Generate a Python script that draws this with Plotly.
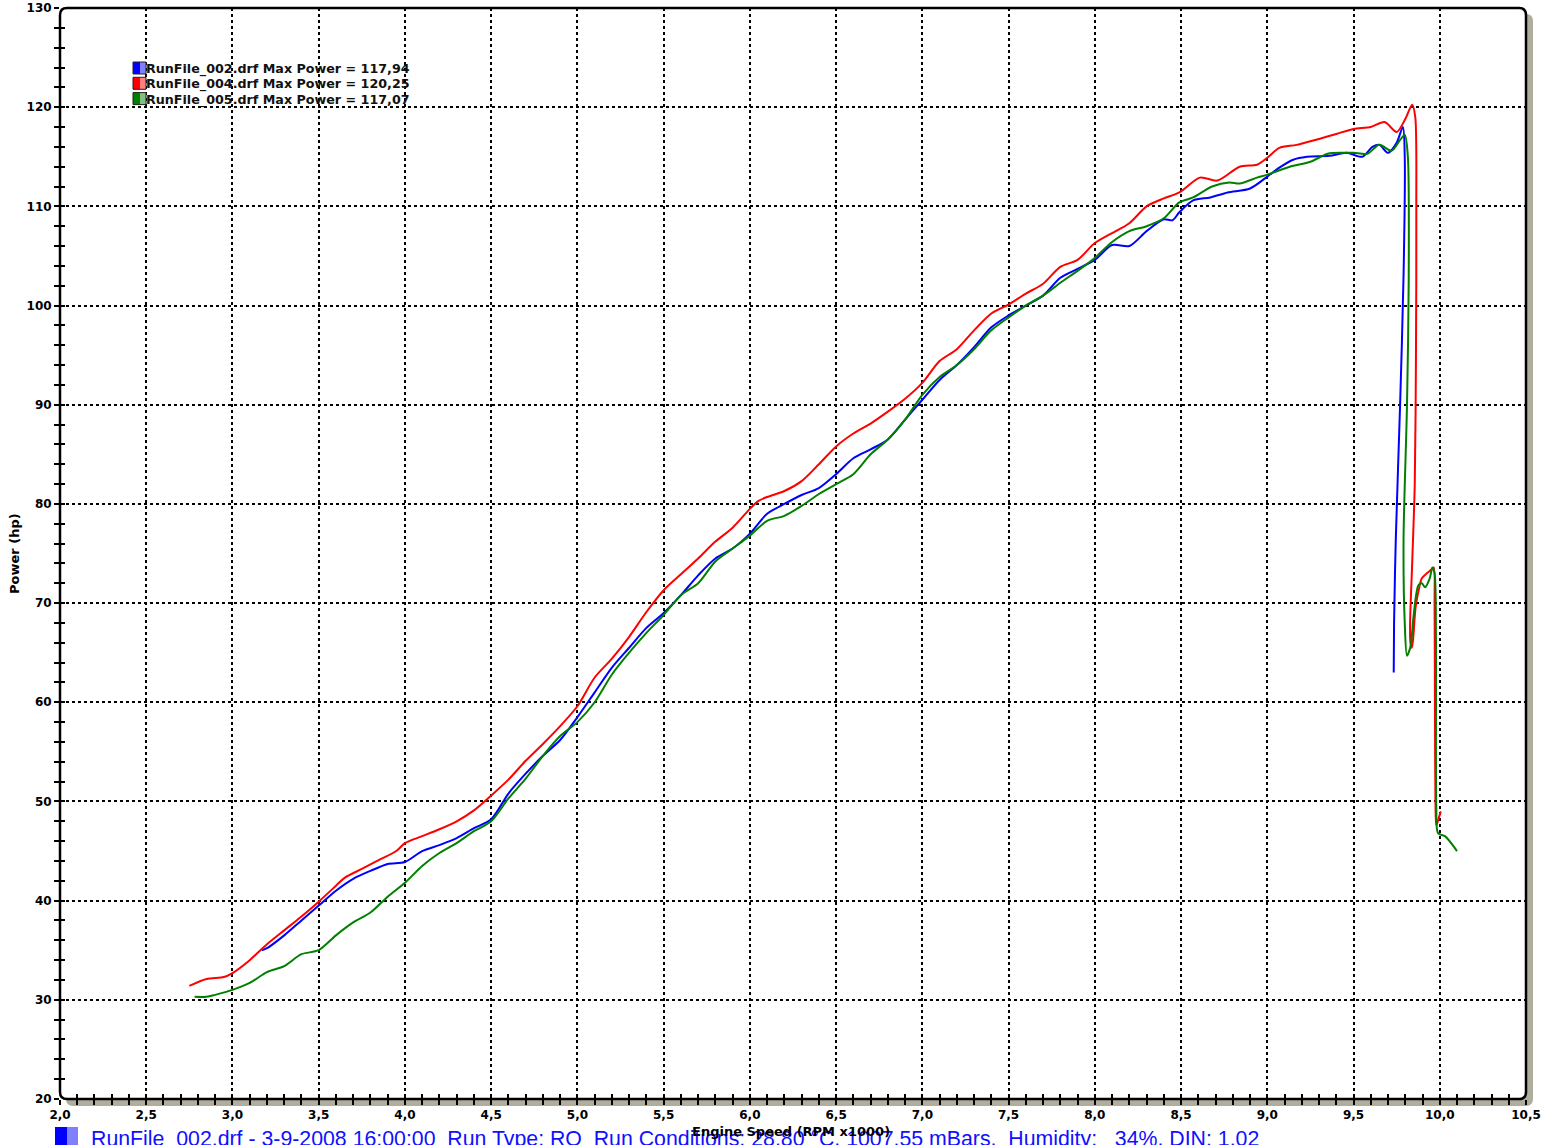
import plotly.graph_objects as go

# ---------------- data ----------------
red_x = [2.75, 2.85, 2.95, 3.0, 3.1, 3.2, 3.3, 3.4, 3.5, 3.6, 3.65, 3.75, 3.85, 3.95, 4.0, 4.1, 4.2, 4.3, 4.4,
         4.5, 4.6, 4.7, 4.8, 4.9, 5.0, 5.1, 5.2, 5.3, 5.4, 5.5, 5.6, 5.7, 5.8, 5.9, 6.0, 6.05, 6.1, 6.2, 6.3,
         6.4, 6.5, 6.6, 6.7, 6.8, 6.9, 7.0, 7.1, 7.2, 7.3, 7.4, 7.5, 7.6, 7.7, 7.8, 7.9, 8.0, 8.1, 8.2, 8.3,
         8.4, 8.49, 8.61, 8.71, 8.84, 8.94, 9.0, 9.07, 9.17, 9.3, 9.4, 9.5, 9.6, 9.68, 9.75, 9.8, 9.84,
         9.858, 9.864, 9.862, 9.855, 9.84, 9.828, 9.83, 9.838, 9.845, 9.86, 9.88, 9.896, 9.925, 9.953,
         9.965, 9.97, 9.972, 9.975, 9.98, 9.992, 10.006]
red_y = [31.4, 32.1, 32.3, 32.7, 34.0, 35.6, 37.0, 38.4, 39.9, 41.5, 42.3, 43.2, 44.1, 45.0, 45.8, 46.5, 47.2,
         48.0, 49.1, 50.6, 52.2, 54.1, 55.8, 57.6, 59.6, 62.5, 64.4, 66.6, 69.1, 71.3, 72.9, 74.5, 76.2, 77.6,
         79.5, 80.3, 80.7, 81.3, 82.3, 84.0, 85.8, 87.1, 88.1, 89.3, 90.6, 92.2, 94.4, 95.6, 97.5, 99.2,
         100.1, 101.2, 102.2, 103.9, 104.6, 106.3, 107.3, 108.3, 110.0, 110.8, 111.4, 112.9, 112.6, 114.0,
         114.2, 114.9, 115.9, 116.2, 116.8, 117.3, 117.8, 118.0, 118.5, 117.5, 118.8, 120.25,
         119.0, 110.0, 95.0, 82.0, 74.0, 68.0, 66.0, 65.5, 66.3, 69.6, 71.5, 72.5, 73.0, 73.4,
         73.6, 69.6, 60.0, 50.0, 47.6, 48.2, 49.0]

blue_x = [3.17, 3.2, 3.3, 3.4, 3.5, 3.6, 3.7, 3.8, 3.9, 4.0, 4.1, 4.2, 4.3, 4.4, 4.5, 4.6, 4.7, 4.8, 4.9,
          5.0, 5.1, 5.2, 5.3, 5.4, 5.5, 5.6, 5.7, 5.8, 5.9, 6.0, 6.1, 6.2, 6.3, 6.4, 6.5, 6.6, 6.7, 6.8,
          6.9, 7.0, 7.1, 7.2, 7.3, 7.4, 7.5, 7.6, 7.7, 7.8, 7.9, 8.0, 8.1, 8.2, 8.3, 8.4, 8.45, 8.49,
          8.57, 8.67, 8.77, 8.9, 9.0, 9.07, 9.15, 9.23, 9.36, 9.46, 9.55, 9.61, 9.65, 9.7, 9.75, 9.786,
          9.797, 9.79, 9.77, 9.745, 9.735, 9.733]
blue_y = [35.0, 35.2, 36.5, 38.0, 39.5, 41.0, 42.2, 43.0, 43.7, 43.9, 45.0, 45.6, 46.3, 47.3, 48.2, 50.8,
          52.8, 54.6, 56.2, 58.5, 61.0, 63.5, 65.5, 67.5, 69.0, 70.8, 72.8, 74.5, 75.5, 77.0, 79.0, 80.0,
          80.9, 81.6, 83.0, 84.6, 85.5, 86.5, 88.5, 90.5, 92.5, 94.0, 95.8, 97.8, 99.0, 100.0, 101.0, 102.8,
          103.7, 104.6, 106.1, 106.0, 107.5, 108.7, 108.6, 109.4, 110.6, 110.9, 111.4, 111.8, 113.0, 113.9,
          114.7, 115.0, 115.1, 115.4, 115.0, 116.0, 116.2, 115.4, 116.4, 118.0,
          115.0, 103.0, 90.0, 76.4, 68.0, 63.0]

green_x = [2.78, 2.85, 2.9, 3.0, 3.1, 3.2, 3.3, 3.4, 3.5, 3.6, 3.7, 3.8, 3.9, 4.0, 4.1, 4.2, 4.3, 4.4, 4.5,
           4.6, 4.7, 4.8, 4.9, 5.0, 5.1, 5.2, 5.3, 5.4, 5.5, 5.6, 5.7, 5.8, 5.9, 6.0, 6.1, 6.2, 6.3, 6.4,
           6.5, 6.6, 6.7, 6.8, 6.9, 7.0, 7.1, 7.2, 7.3, 7.4, 7.5, 7.6, 7.7, 7.8, 7.9, 8.0, 8.1, 8.2, 8.3,
           8.4, 8.49, 8.57, 8.68, 8.78, 8.84, 8.94, 9.0, 9.13, 9.25, 9.35, 9.44, 9.5, 9.58, 9.65, 9.72,
           9.77, 9.797, 9.815, 9.82, 9.81, 9.79, 9.797, 9.81, 9.83, 9.85, 9.876, 9.896, 9.914, 9.942,
           9.957, 9.97, 9.978, 9.98, 9.99, 10.03, 10.1]
green_y = [30.3, 30.3, 30.5, 31.0, 31.7, 32.8, 33.4, 34.6, 35.0, 36.5, 37.8, 38.8, 40.4, 41.8, 43.5, 44.8,
           45.8, 47.0, 48.0, 50.3, 52.3, 54.6, 56.6, 58.0, 60.0, 62.8, 65.0, 67.0, 68.8, 70.8, 72.0, 74.2,
           75.5, 76.8, 78.3, 78.8, 79.8, 81.0, 82.0, 83.0, 85.0, 86.5, 88.5, 91.0, 92.8, 94.0, 95.6, 97.5,
           98.8, 100.0, 101.0, 102.3, 103.5, 104.8, 106.4, 107.5, 108.0, 108.8, 110.4, 110.9, 112.0, 112.4,
           112.3, 112.9, 113.2, 114.0, 114.5, 115.3, 115.4, 115.4, 115.3, 116.2, 115.6, 116.7,
           117.2, 115.0, 102.6, 90.0, 76.4, 68.0, 64.7, 65.6, 69.0, 71.8, 72.0, 71.6, 72.5,
           73.6, 73.0, 66.3, 49.4, 46.8, 46.5, 45.0]

x_ticks = [2.0, 2.5, 3.0, 3.5, 4.0, 4.5, 5.0, 5.5, 6.0, 6.5, 7.0, 7.5, 8.0, 8.5, 9.0, 9.5, 10.0, 10.5]
x_tick_labels = ["2,0", "2,5", "3,0", "3,5", "4,0", "4,5", "5,0", "5,5", "6,0", "6,5", "7,0", "7,5",
                 "8,0", "8,5", "9,0", "9,5", "10,0", "10,5"]
y_ticks = [20, 30, 40, 50, 60, 70, 80, 90, 100, 110, 120, 130]
y_tick_labels = [str(v) for v in y_ticks]

legend_labels = ["RunFile_002.drf Max Power = 117,94",
                 "RunFile_004.drf Max Power = 120,25",
                 "RunFile_005.drf Max Power = 117,07"]
series_colors = ["#0000ff", "#ff0000", "#008000"]
light_colors = ["#8080ff", "#ff8080", "#80c080"]
footer_text = ("RunFile_002.drf - 3-9-2008 16:00:00\u00a0 Run Type: RO\u00a0 Run Conditions: 28.80 \u00b0C, "
               "1007.55 mBars,\u00a0 Humidity:\u00a0\u00a0 34%, DIN: 1.02")

# ---------------- layout helpers ----------------
W, H = 1559, 1145
PX0, PX1, PY0, PY1 = 60, 1526, 8, 1099


def fx(p):
    return (p - PX0) / (PX1 - PX0)


def fy(p):
    return (PY1 - p) / (PY1 - PY0)


def rrect(x0, y0, x1, y1, r):
    pts = [("M", x0 + r, y0), ("L", x1 - r, y0), ("Q", x1, y0, x1, y0 + r), ("L", x1, y1 - r),
           ("Q", x1, y1, x1 - r, y1), ("L", x0 + r, y1), ("Q", x0, y1, x0, y1 - r), ("L", x0, y0 + r),
           ("Q", x0, y0, x0 + r, y0)]
    s = ""
    for p in pts:
        cmd = p[0]
        coords = p[1:]
        parts = []
        for i in range(0, len(coords), 2):
            parts.append(f"{fx(coords[i]):.6f},{fy(coords[i + 1]):.6f}")
        s += cmd + " ".join(parts) + " "
    return s + "Z"


fig = go.Figure()
traces = [(blue_x, blue_y), (red_x, red_y), (green_x, green_y)]
for (xs, ys), col, name in zip(traces, series_colors, legend_labels):
    fig.add_trace(go.Scatter(x=xs, y=ys, mode="lines", name=name,
                             line=dict(color=col, width=2, shape="spline", smoothing=0.8),
                             showlegend=False))

# dummy trace for overlay axes (inside ticks)
fig.add_trace(go.Scatter(x=[None], y=[None], xaxis="x2", yaxis="y2", showlegend=False, hoverinfo="skip"))

tickfont = dict(family="DejaVu Sans", size=12, color="black", weight="bold")
common_x = dict(range=[2.0, 10.5], type="linear", tickvals=x_ticks, showline=False, zeroline=False,
                tickwidth=1.5, ticklen=5, tickcolor="black", automargin=False,
                minor=dict(dtick=0.1, tick0=2.0, ticks="", ticklen=5, tickwidth=1.5, tickcolor="black", showgrid=False))
common_y = dict(range=[20, 130], type="linear", tickvals=y_ticks, showline=False, zeroline=False,
                tickwidth=1.5, ticklen=5, tickcolor="black", automargin=False,
                minor=dict(dtick=2, tick0=20, ticks="", ticklen=5, tickwidth=1.5, tickcolor="black", showgrid=False))

xa = dict(common_x)
xa.update(ticktext=x_tick_labels, ticks="outside", showgrid=True, gridcolor="black", gridwidth=2,
          griddash="dot", tickfont=tickfont)
xa["minor"] = dict(common_x["minor"], ticks="outside")
ya = dict(common_y)
ya.update(ticktext=y_tick_labels, ticks="outside", showgrid=True, gridcolor="black", gridwidth=2,
          griddash="dot", tickfont=tickfont)
ya["minor"] = dict(common_y["minor"], ticks="outside")
xa2 = dict(common_x)
xa2.update(overlaying="x", anchor="y2", side="bottom", ticks="inside", showticklabels=False, showgrid=False)
xa2["minor"] = dict(common_x["minor"], ticks="inside")
ya2 = dict(common_y)
ya2.update(overlaying="y", anchor="x2", side="left", ticks="inside", showticklabels=False, showgrid=False)
ya2["minor"] = dict(common_y["minor"], ticks="inside")

shapes = [
    dict(type="path", xref="paper", yref="paper", path=rrect(66, 14, 1533, 1106, 7),
         fillcolor="#b1ad9d", line=dict(width=0), layer="below"),
    dict(type="path", xref="paper", yref="paper", path=rrect(PX0, PY0, PX1, PY1, 7),
         fillcolor="white", line=dict(width=0), layer="below"),
    dict(type="path", xref="paper", yref="paper", path=rrect(PX0, PY0, PX1, PY1, 7),
         fillcolor="rgba(0,0,0,0)", line=dict(color="black", width=2.5), layer="above"),
]

annotations = []
# in-plot legend
for i, (lab, dc, lc) in enumerate(zip(legend_labels, series_colors, light_colors)):
    cy = 68 + 15.3 * i
    shapes.append(dict(type="rect", xref="paper", yref="paper", x0=fx(133), x1=fx(140), y0=fy(cy - 6), y1=fy(cy + 6),
                       fillcolor=dc, line=dict(width=0), layer="above"))
    shapes.append(dict(type="rect", xref="paper", yref="paper", x0=fx(140), x1=fx(146), y0=fy(cy - 6), y1=fy(cy + 6),
                       fillcolor=lc, line=dict(width=0), layer="above"))
    shapes.append(dict(type="rect", xref="paper", yref="paper", x0=fx(133), x1=fx(146), y0=fy(cy - 6), y1=fy(cy + 6),
                       fillcolor="rgba(0,0,0,0)", line=dict(color="#222", width=1), layer="above"))
    annotations.append(dict(xref="paper", yref="paper", x=fx(144), y=fy(cy + 1), xanchor="left", yanchor="middle",
                            text=lab, showarrow=False,
                            font=dict(family="DejaVu Sans", size=12.7, color="#111", weight="bold")))

# footer square
shapes.append(dict(type="rect", xref="paper", yref="paper", x0=fx(55), x1=fx(67), y0=fy(1127), y1=fy(1150),
                   fillcolor="#0000ff", line=dict(width=0)))
shapes.append(dict(type="rect", xref="paper", yref="paper", x0=fx(67), x1=fx(78), y0=fy(1127), y1=fy(1150),
                   fillcolor="#8080ff", line=dict(width=0)))

annotations.append(dict(xref="paper", yref="paper", x=fx(89), y=fy(1139), xanchor="left", yanchor="middle",
                        text=footer_text, showarrow=False,
                        font=dict(family="Liberation Sans", size=21.3, color="#1010ff")))
annotations.append(dict(xref="paper", yref="paper", x=fx(791), y=fy(1131), xanchor="center", yanchor="middle",
                        text="Engine Speed (RPM x1000)", showarrow=False,
                        font=dict(family="DejaVu Sans", size=13, color="black", weight="bold")))
annotations.append(dict(xref="paper", yref="paper", x=fx(14), y=fy(553), xanchor="center", yanchor="middle",
                        text="Power (hp)", textangle=-90, showarrow=False,
                        font=dict(family="DejaVu Sans", size=13, color="black", weight="bold")))

fig.update_layout(
    width=W, height=H,
    margin=dict(l=PX0, r=W - PX1, t=PY0, b=H - PY1, pad=0, autoexpand=False),
    paper_bgcolor="white", plot_bgcolor="white",
    xaxis=xa, yaxis=ya, xaxis2=xa2, yaxis2=ya2,
    shapes=shapes, annotations=annotations,
    showlegend=False,
)

fig.write_html("out.html", config={"displayModeBar": False},
               post_script="document.body.style.margin='0px';")
